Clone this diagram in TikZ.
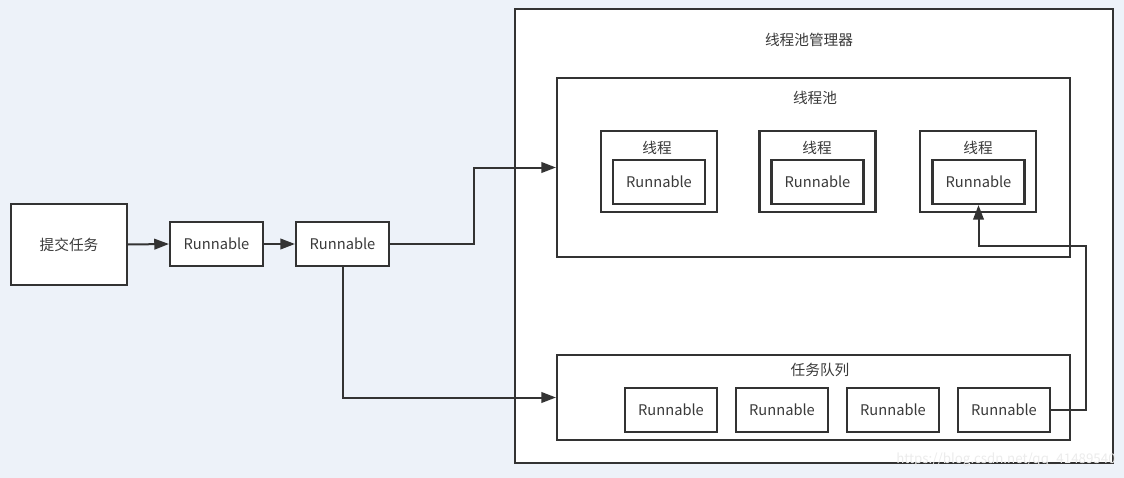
\documentclass[tikz,border=0pt]{standalone}
\usepackage{fontspec}
\setmainfont{Noto Sans CJK SC}
\usetikzlibrary{arrows.meta}
\definecolor{bgblue}{HTML}{EDF2F9}
\definecolor{edgegray}{HTML}{333333}
\definecolor{textgray}{HTML}{3A3A3A}

\begin{document}
\begin{tikzpicture}[x=0.75pt,y=-0.75pt,
  bx/.style={draw=edgegray,fill=white,line width=1.6pt,inner sep=0pt,font=\fontsize{11}{13}\selectfont,text=textgray},
  rb/.style={bx,minimum width=69pt,minimum height=33pt},
  lb/.style={font=\fontsize{11}{13}\selectfont,text=textgray,inner sep=0pt},
  ar/.style={-{Triangle[length=11pt,width=8pt]},edgegray,line width=1.5pt}]
\fill[bgblue] (0,0) rectangle (1124,478);
\node[bx,minimum width=87pt,minimum height=60.75pt] (sub) at (69,244.5) {提交任务};
\node[rb,minimum width=69.75pt] (r1) at (216.5,244) {Runnable};
\node[rb,minimum width=69.75pt] (r2) at (342.5,244) {Runnable};
% manager with pool and queue
\node[bx,minimum width=448.5pt,minimum height=340.5pt] (mgr) at (814,236) {};
\node[lb] (mgrlb) at (809,40) {线程池管理器};
\node[bx,minimum width=384.75pt,minimum height=134.25pt] (pool) at (813.5,167.5) {};
\node[lb] (poollb) at (815,98) {线程池};
\node[bx,minimum width=87pt,minimum height=60.75pt] (t1) at (659,171.5) {};
\node[bx,minimum width=87pt,minimum height=60.75pt] (t2) at (817.5,171.5) {};
\node[bx,minimum width=87pt,minimum height=60.75pt] (t3) at (978,171.5) {};
\node[lb] (t1lb) at (657,148) {线程};
\node[lb] (t2lb) at (817,148) {线程};
\node[lb] (t3lb) at (978,148) {线程};
\node[rb] (t1in) at (659,182) {Runnable};
\node[rb] (t2in) at (817.5,182) {Runnable};
\node[rb] (t3in) at (978.5,182) {Runnable};
\node[bx,minimum width=384.75pt,minimum height=63.75pt] (queue) at (813.5,397.5) {};
\node[lb] (queuelb) at (820,370) {任务队列};
\node[rb] (q1) at (671,410) {Runnable};
\node[rb] (q2) at (782,410) {Runnable};
\node[rb] (q3) at (893,410) {Runnable};
\node[rb] (q4) at (1004,410) {Runnable};
\node[lb,font=\fontsize{10}{12}\selectfont,text=white!85!gray] (wm) at (1006,460) {https://blog.csdn.net/qq\_41489540};
% connectors
\draw[ar] (sub.east) -- (r1.west);
\draw[ar] (r1.east) -- (r2.west);
\draw[ar] (r2.east) -- ++(84,0) |- (pool.west);
\draw[ar] (r2.south) |- (queue.west);
\draw[ar] (q4.east) -| ++(35,-164) -| (t3in.south);
\end{tikzpicture}
\end{document}
